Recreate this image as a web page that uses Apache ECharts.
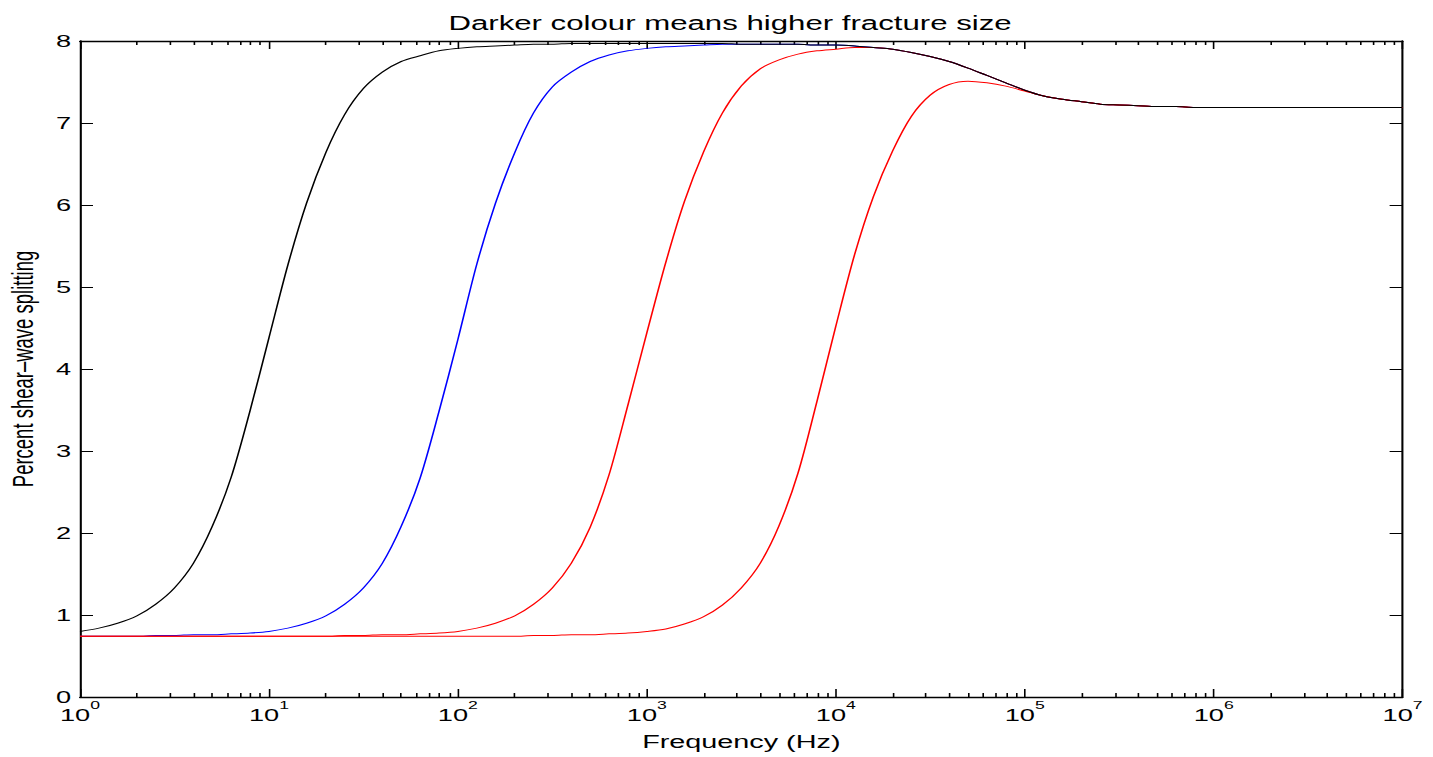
<!DOCTYPE html>
<html>
<head>
<meta charset="utf-8">
<title>Shear-wave splitting vs frequency</title>
<script src="https://cdn.jsdelivr.net/npm/echarts@6/dist/echarts.min.js"></script>
<style>
  html, body { margin: 0; padding: 0; background: #fff; overflow: hidden; }
  /* the original figure is stretched sideways, so we draw narrow and scale x */
  #chart { height: 757px; transform-origin: 0 0; }
</style>
</head>
<body>
<div id="chart"></div>
<script>
// frequency samples (Hz), 10 per decade
const freq = [
  1, 1.26, 1.58, 2, 2.51, 3.16, 3.98, 5.01, 6.31, 7.94,
  10, 12.6, 15.8, 20, 25.1, 31.6, 39.8, 50.1, 63.1, 79.4,
  100, 126, 158, 200, 251, 316, 398, 501, 631, 794,
  1000, 1260, 1580, 2000, 2510, 3160, 3980, 5010, 6310, 7940,
  1e4, 1.26e4, 1.58e4, 2e4, 2.51e4, 3.16e4, 3.98e4, 5.01e4, 6.31e4, 7.94e4,
  1e5, 1.26e5, 1.58e5, 2e5, 2.51e5, 3.16e5, 3.98e5, 5.01e5, 6.31e5, 7.94e5,
  1e6, 1.26e6, 1.58e6, 2e6, 2.51e6, 3.16e6, 3.98e6, 5.01e6, 6.31e6, 7.94e6,
  1e7
]

// percent splitting, one list per fracture size
const blackVals = [
  0.80, 0.84, 0.90, 0.99, 1.13, 1.33, 1.63, 2.08, 2.68, 3.49,
  4.38, 5.27, 6.02, 6.64, 7.10, 7.42, 7.62, 7.75, 7.82, 7.88,
  7.91, 7.93, 7.94, 7.95, 7.96, 7.96, 7.97, 7.97, 7.97, 7.97,
  7.97, 7.97, 7.97, 7.97, 7.97, 7.96, 7.96, 7.96, 7.96, 7.95,
  7.95, 7.94, 7.92, 7.90, 7.86, 7.81, 7.75, 7.67, 7.58, 7.49,
  7.40, 7.33, 7.29, 7.26, 7.23, 7.22, 7.21, 7.20, 7.20, 7.19,
  7.19, 7.19, 7.19, 7.19, 7.19, 7.19, 7.19, 7.19, 7.19, 7.19,
  7.19
]
const blueVals = [
  0.74, 0.74, 0.74, 0.74, 0.75, 0.75, 0.76, 0.76, 0.77, 0.78,
  0.80, 0.84, 0.90, 0.99, 1.13, 1.33, 1.63, 2.08, 2.67, 3.48,
  4.36, 5.28, 6.02, 6.64, 7.12, 7.44, 7.62, 7.75, 7.83, 7.88,
  7.91, 7.93, 7.94, 7.95, 7.96, 7.96, 7.96, 7.96, 7.96, 7.95,
  7.95, 7.94, 7.92, 7.90, 7.86, 7.81, 7.75, 7.67, 7.58, 7.49,
  7.40, 7.33, 7.29, 7.26, 7.23, 7.22, 7.21, 7.20, 7.20, 7.19,
  7.19, 7.19, 7.19, 7.19, 7.19, 7.19, 7.19, 7.19, 7.19, 7.19,
  7.19
]
const red1Vals = [
  0.74, 0.74, 0.74, 0.74, 0.74, 0.74, 0.74, 0.74, 0.74, 0.74,
  0.74, 0.74, 0.74, 0.74, 0.75, 0.75, 0.76, 0.76, 0.77, 0.78,
  0.80, 0.84, 0.90, 0.99, 1.13, 1.33, 1.63, 2.07, 2.71, 3.56,
  4.44, 5.30, 6.04, 6.65, 7.12, 7.45, 7.66, 7.77, 7.84, 7.88,
  7.90, 7.92, 7.92, 7.90, 7.86, 7.81, 7.75, 7.67, 7.58, 7.49,
  7.40, 7.33, 7.29, 7.26, 7.23, 7.22, 7.21, 7.20, 7.20, 7.19,
  7.19, 7.19, 7.19, 7.19, 7.19, 7.19, 7.19, 7.19, 7.19, 7.19,
  7.19
]
const red2Vals = [
  0.74, 0.74, 0.74, 0.74, 0.74, 0.74, 0.74, 0.74, 0.74, 0.74,
  0.74, 0.74, 0.74, 0.74, 0.74, 0.74, 0.74, 0.74, 0.74, 0.74,
  0.74, 0.74, 0.74, 0.74, 0.75, 0.75, 0.76, 0.76, 0.77, 0.78,
  0.80, 0.83, 0.89, 0.98, 1.12, 1.33, 1.63, 2.09, 2.73, 3.60,
  4.52, 5.40, 6.10, 6.66, 7.08, 7.34, 7.47, 7.51, 7.49, 7.45,
  7.39, 7.33, 7.29, 7.26, 7.23, 7.22, 7.21, 7.20, 7.20, 7.19,
  7.19, 7.19, 7.19, 7.19, 7.19, 7.19, 7.19, 7.19, 7.19, 7.19,
  7.19
]

const yTicks = [0, 1, 2, 3, 4, 5, 6, 7, 8]

// 2..9 inside every decade
const minorTicks = []
for (let d = 1; d < 1e7; d *= 10) {
  for (let m = 2; m <= 9; m++) minorTicks.push(m * d)
}

const K = 1.6 // horizontal stretch of the original
const W = 1433 / K
const FONT = '"Liberation Sans", Arial, Helvetica, sans-serif'

const chartDom = document.getElementById('chart')
chartDom.style.width = W + 'px'
chartDom.style.transform = 'scaleX(' + K + ')'

const toPairs = (vals) => freq.map((f, i) => [f, vals[i]])

const expLabel = (v) => {
  const e = Math.round(Math.log10(v))
  return '{b|10}{s|' + e + '}'
}

const black = '#000'
const lineW = 1.3

const logAxisBase = {
  type: 'log',
  logBase: 10,
  min: 1,
  max: 1e7,
  splitNumber: 7,
  splitLine: { show: false },
  axisPointer: { show: false }
}

const chartOptions = {
  animation: false,
  backgroundColor: '#fff',
  title: {
    text: 'Darker colour means higher fracture size',
    left: 722 / K,
    top: 8,
    textAlign: 'center',
    textStyle: { fontFamily: FONT, fontSize: 19.5, fontWeight: 'normal', color: black }
  },
  grid: {
    left: 80 / K,
    right: 31 / K,
    top: 41,
    bottom: 60,
    outerBoundsMode: 'none',
    containLabel: false
  },
  xAxis: [
    {
      ...logAxisBase,
      position: 'bottom',
      name: 'Frequency (Hz)',
      nameLocation: 'middle',
      nameGap: 36,
      nameTextStyle: { fontFamily: FONT, fontSize: 18, color: black },
      axisLine: { show: true, lineStyle: { color: black, width: lineW } },
      axisTick: { show: true, inside: true, length: 8, lineStyle: { color: black, width: 1 } },
      axisLabel: {
        margin: 10,
        formatter: expLabel,
        rich: {
          b: { fontFamily: FONT, fontSize: 17, lineHeight: 17, color: black, verticalAlign: 'bottom' },
          s: { fontFamily: FONT, fontSize: 11, lineHeight: 11, color: black, verticalAlign: 'bottom', padding: [0, 0, 13, 0] }
        }
      }
    },
    {
      ...logAxisBase,
      position: 'bottom',
      axisLine: { show: false },
      axisTick: { show: true, inside: true, length: 4, customValues: minorTicks, lineStyle: { color: black, width: 1 } },
      axisLabel: { show: false }
    },
    {
      ...logAxisBase,
      position: 'top',
      axisLine: { show: true, lineStyle: { color: black, width: lineW } },
      axisTick: { show: true, inside: true, length: 8, lineStyle: { color: black, width: 1 } },
      axisLabel: { show: false }
    },
    {
      ...logAxisBase,
      position: 'top',
      axisLine: { show: false },
      axisTick: { show: true, inside: true, length: 4, customValues: minorTicks, lineStyle: { color: black, width: 1 } },
      axisLabel: { show: false }
    }
  ],
  yAxis: [
    {
      type: 'value',
      position: 'left',
      min: yTicks[0],
      max: yTicks[yTicks.length - 1],
      interval: 1,
      name: 'Percent shear–wave splitting',
      nameLocation: 'middle',
      nameRotate: 90,
      nameGap: 26,
      nameTextStyle: { fontFamily: FONT, fontSize: 18.5, color: black },
      splitLine: { show: false },
      axisLine: { show: true, lineStyle: { color: black, width: lineW } },
      axisTick: { show: true, inside: true, length: 13 / K, lineStyle: { color: black, width: 1 } },
      axisLabel: { margin: 9 / K, fontFamily: FONT, fontSize: 17, color: black }
    },
    {
      type: 'value',
      position: 'right',
      min: yTicks[0],
      max: yTicks[yTicks.length - 1],
      interval: 1,
      splitLine: { show: false },
      axisLine: { show: true, lineStyle: { color: black, width: lineW } },
      axisTick: { show: true, inside: true, length: 13 / K, lineStyle: { color: black, width: 1 } },
      axisLabel: { show: false }
    }
  ],
  series: [
    { name: 'blue', data: toPairs(blueVals), color: '#0000ff' },
    { name: 'red 1', data: toPairs(red1Vals), color: '#ff0000' },
    { name: 'red 2', data: toPairs(red2Vals), color: '#ff0000' },
    { name: 'black', data: toPairs(blackVals), color: '#000000' }
  ].map((s) => ({
    type: 'line',
    name: s.name,
    data: s.data,
    xAxisIndex: 0,
    yAxisIndex: 0,
    showSymbol: false,
    smooth: 0.3,
    lineStyle: { color: s.color, width: 1 },
    itemStyle: { color: s.color }
  }))
}

const chartInstance = echarts.init(chartDom, null, { renderer: 'svg' })
chartInstance.setOption(chartOptions)
</script>
</body>
</html>
